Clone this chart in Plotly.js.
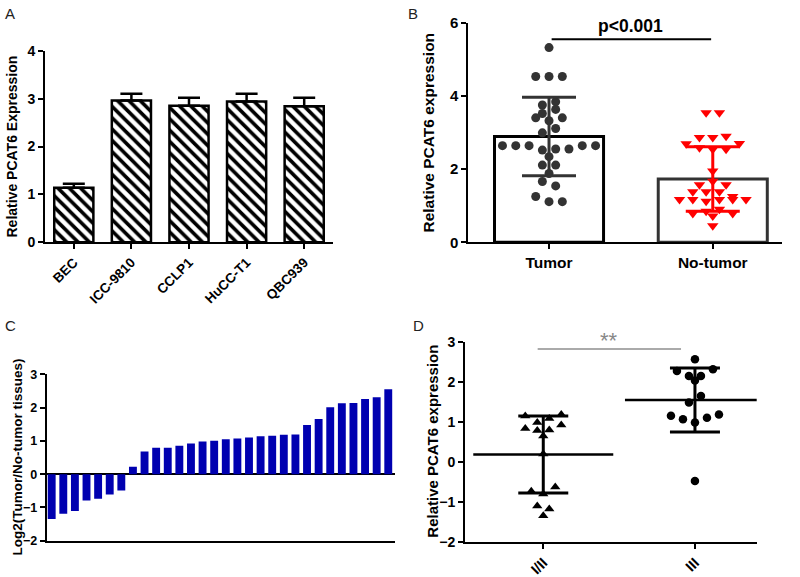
<!DOCTYPE html>
<html><head><meta charset="utf-8">
<script src="https://cdn.plot.ly/plotly-3.0.1.min.js"></script>
<style>body{margin:0;background:#fff}#chart{width:800px;height:577px}</style>
</head><body><div id="chart"></div>
<script>
// ---------- Panel A: cell lines ----------
const cellLines = ['BEC', 'ICC-9810', 'CCLP1', 'HuCC-T1', 'QBC939'];
const cellMeans = [1.14, 2.96, 2.85, 2.94, 2.84];
const cellErr   = [0.08, 0.14, 0.17, 0.16, 0.18];

// ---------- Panel B: tumor vs no-tumor ----------
const groupsB = ['Tumor', 'No-tumor'];
const tumorVals = [5.32, 4.53, 4.53, 4.53, 3.75, 3.84, 3.52, 3.63, 3.40, 3.32, 3.40,
  2.99, 3.11, 2.64, 2.64, 2.64, 2.52, 2.55, 2.55, 2.64, 2.64, 2.34, 2.11, 2.11, 1.88,
  1.66, 1.54, 1.25, 1.11, 1.11];
const noTumorVals = [3.54, 3.54, 2.86, 2.86, 2.90, 2.69, 2.58, 2.54, 2.54, 2.70, 1.95,
  1.57, 1.67, 1.57, 1.38, 1.38, 1.38, 1.17, 1.17, 1.25, 1.12, 1.17, 1.17, 1.17,
  0.79, 0.85, 0.72, 0.90, 0.79, 0.45];
const groupMeansB = [2.89, 1.73];
const groupSDB = [1.07, 0.88];
const pLabelB = 'p<0.001';

// ---------- Panel C: log2 ratios ----------
const log2Ratios = [-1.35, -1.19, -1.11, -0.79, -0.74, -0.61, -0.49, 0.22, 0.68, 0.79,
  0.79, 0.85, 0.92, 0.98, 1.00, 1.05, 1.07, 1.10, 1.14, 1.15, 1.18, 1.19, 1.48, 1.66,
  2.01, 2.13, 2.14, 2.26, 2.31, 2.55];

// ---------- Panel D: stage ----------
const stagesD = ['I/II', 'III'];
const stageEarlyVals = [1.14, 0.98, 1.08, 1.18, 0.83, 0.78, 0.79, 0.92, 0.64, 0.19,
  -0.74, -0.81, -0.63, -1.11, -1.18, -1.35];
const stageLateVals = [2.56, 2.27, 2.14, 2.14, 2.31, 2.03, 1.48, 1.64, 1.15, 1.06, 0.98,
  1.10, 1.18, -0.48];
const stageMeansD = [0.18, 1.54];
const stageSDD = [0.96, 0.80];
const sigLabelD = '**';

// ---------- layout geometry ----------
const W = 800, H = 577;
const FONT = 'Arial, "Liberation Sans", sans-serif';
const xd = (a, b) => [a / W, b / W];
const yd = (top, bottom) => [1 - bottom / H, 1 - top / H];

const geo = {
  A: {x: [45, 333], y: [50.7, 242.3], xr: [-0.5, 4.5], yr: [0, 4]},
  B: {x: [468.3, 781.7], y: [22.7, 242.3], xr: [-0.493, 1.421], yr: [0, 6]},
  C: {x: [46.7, 395], y: [374.3, 540.7], xr: [-0.43, 29.58], yr: [-2, 3]},
  D: {x: [465, 756.7], y: [341.7, 541.7], xr: [-0.516, 1.407], yr: [-2, 3]}
};
const pxPerX = g => (g.x[1] - g.x[0]) / (g.xr[1] - g.xr[0]);

// row-based beeswarm (GraphPad-like): values close in y share a row, spread symmetrically
function swarm(values, thresh, spacingPx, ppx) {
  const idx = values.map((v, i) => i).sort((a, b) => values[b] - values[a] || a - b);
  const rows = [];
  let cur = null, start = null;
  idx.forEach(i => {
    if (cur === null || start - values[i] > thresh) { cur = []; rows.push(cur); start = values[i]; }
    cur.push(i);
  });
  const off = new Array(values.length).fill(0);
  rows.forEach(r => {
    r.sort((a, b) => a - b);
    const n = r.length;
    r.forEach((i, k) => { off[i] = (k - (n - 1) / 2) * spacingPx / ppx; });
  });
  return off;
}

const tf = (s) => ({family: FONT, size: s, color: '#000', weight: 'bold'});
function axisBase(extra) {
  return Object.assign({
    showline: true, linecolor: '#000', linewidth: 2, ticks: 'outside', tickcolor: '#000',
    tickwidth: 2, ticklen: 5, showgrid: false, zeroline: false, fixedrange: true
  }, extra);
}

const traces = [];

// A
traces.push({
  type: 'bar', x: cellLines.map((c, i) => i), y: cellMeans, xaxis: 'x', yaxis: 'y', width: 0.68,
  marker: {color: '#fff', line: {color: '#000', width: 2.5},
    pattern: {shape: '\\', fgcolor: '#000', bgcolor: '#fff', size: 8, solidity: 0.45, fillmode: 'replace'}},
  error_y: {type: 'data', symmetric: false, array: cellErr, arrayminus: cellErr.map(() => 0),
    color: '#000', thickness: 2.5, width: 11},
  hoverinfo: 'none'
});

// B
const ppxB = pxPerX(geo.B);
traces.push({
  type: 'bar', x: [0, 1], y: groupMeansB, xaxis: 'x2', yaxis: 'y2', width: 0.666,
  marker: {color: 'rgba(255,255,255,0)', line: {color: ['#000', '#333'], width: 3}}, hoverinfo: 'none'
});
const offT = swarm(tumorVals, 0.18, 13.3, ppxB);
traces.push({
  type: 'scatter', mode: 'markers', xaxis: 'x2', yaxis: 'y2',
  x: tumorVals.map((v, i) => 0 + offT[i]), y: tumorVals,
  marker: {symbol: 'circle', size: 9, color: '#333'}, hoverinfo: 'none'
});
const offN = swarm(noTumorVals, 0.18, 13.3, ppxB);
traces.push({
  type: 'scatter', mode: 'markers', xaxis: 'x2', yaxis: 'y2',
  x: noTumorVals.map((v, i) => 1 + offN[i]), y: noTumorVals,
  marker: {symbol: 'triangle-down', size: 10, color: '#ff0000'}, hoverinfo: 'none'
});
['#333', '#ff0000'].forEach((c, i) => {
  traces.push({
    type: 'scatter', mode: 'markers', xaxis: 'x2', yaxis: 'y2', x: [i], y: [groupMeansB[i]],
    marker: {size: 1, opacity: 0}, hoverinfo: 'none',
    error_y: {type: 'data', array: [groupSDB[i]], color: c, thickness: 3, width: 27}
  });
});

// C
traces.push({
  type: 'bar', x: log2Ratios.map((v, i) => i), y: log2Ratios, xaxis: 'x3', yaxis: 'y3', width: 0.68,
  marker: {color: '#0000b0'}, hoverinfo: 'none'
});

// D
const ppxD = pxPerX(geo.D);
const offE = swarm(stageEarlyVals, 0.22, 12, ppxD);
const offL = swarm(stageLateVals, 0.22, 12, ppxD);
traces.push({
  type: 'scatter', mode: 'markers', xaxis: 'x4', yaxis: 'y4',
  x: stageEarlyVals.map((v, i) => 0 + offE[i]), y: stageEarlyVals,
  marker: {symbol: 'triangle-up', size: 9, color: '#000'}, hoverinfo: 'none'
});
traces.push({
  type: 'scatter', mode: 'markers', xaxis: 'x4', yaxis: 'y4',
  x: stageLateVals.map((v, i) => 1 + offL[i]), y: stageLateVals,
  marker: {symbol: 'circle', size: 8.5, color: '#000'}, hoverinfo: 'none'
});
traces.push({
  type: 'scatter', mode: 'markers', xaxis: 'x4', yaxis: 'y4', x: [0, 1], y: stageMeansD,
  marker: {symbol: 'line-ew', size: 100, color: '#000', line: {color: '#000', width: 2.5}},
  error_y: {type: 'data', array: stageSDD, color: '#000', thickness: 3, width: 25},
  hoverinfo: 'none'
});

const pa = (text, x, y, font, extra) => Object.assign({text, xref: 'paper', yref: 'paper', x: x / W, y: 1 - y / H,
  xanchor: 'center', yanchor: 'middle', showarrow: false, font}, extra || {});
const letterFont = {family: FONT, size: 15, color: '#222'};

const layout = {
  width: W, height: H, margin: {l: 0, r: 0, t: 0, b: 0}, showlegend: false,
  paper_bgcolor: '#fff', plot_bgcolor: 'rgba(0,0,0,0)', font: {family: FONT, color: '#000'},
  xaxis: axisBase({domain: xd(...geo.A.x), anchor: 'y', range: geo.A.xr, tickvals: cellLines.map((c, i) => i),
    ticktext: cellLines, tickangle: -45, tickfont: tf(13.5)}),
  yaxis: axisBase({domain: yd(...geo.A.y), anchor: 'x', range: geo.A.yr, dtick: 1, tickfont: tf(14)}),
  xaxis2: axisBase({domain: xd(...geo.B.x), anchor: 'y2', range: geo.B.xr, tickvals: [0, 1],
    ticktext: groupsB, tickfont: tf(15.5)}),
  yaxis2: axisBase({domain: yd(...geo.B.y), anchor: 'x2', range: geo.B.yr, dtick: 2, tickfont: tf(15)}),
  xaxis3: axisBase({domain: xd(...geo.C.x), anchor: 'y3', range: geo.C.xr, ticks: '', showticklabels: false}),
  yaxis3: axisBase({domain: yd(...geo.C.y), anchor: 'x3', range: geo.C.yr, dtick: 1, tickfont: tf(12.5),
    zeroline: true, zerolinecolor: '#000', zerolinewidth: 2}),
  xaxis4: axisBase({domain: xd(...geo.D.x), anchor: 'y4', range: geo.D.xr, tickvals: [0, 1],
    ticktext: stagesD, tickangle: -45, tickfont: tf(14.5)}),
  yaxis4: axisBase({domain: yd(...geo.D.y), anchor: 'x4', range: geo.D.yr, dtick: 1, tickfont: tf(14)}),
  shapes: [
    {type: 'line', xref: 'x2', yref: 'y2', x0: 0.016, x1: 0.99, y0: 5.55, y1: 5.55, line: {color: '#000', width: 2}},
    {type: 'line', xref: 'x4', yref: 'y4', x0: -0.037, x1: 0.908, y0: 2.82, y1: 2.82, line: {color: '#aaa', width: 2}}
  ],
  annotations: [
    pa('A', 10, 13, letterFont),
    pa('B', 412.7, 13.3, letterFont),
    pa('C', 10, 325, letterFont),
    pa('D', 418.3, 325, letterFont),
    pa('Relative PCAT6 Expression', 11, 146.5, tf(14), {textangle: -90}),
    pa('Relative PCAT6 expression', 428, 132.5, tf(15.5), {textangle: -90}),
    pa('Log2(Tumor/No-tumor tissues)', 17, 457.5, tf(13.5), {textangle: -90}),
    pa('Relative PCAT6 expression', 433, 441.7, tf(15), {textangle: -90}),
    {text: pLabelB, xref: 'x2', yref: 'y2', x: 0.5, y: 5.55, yanchor: 'bottom', yshift: 1, showarrow: false, font: tf(17.5)},
    {text: sigLabelD, xref: 'x4', yref: 'paper', x: 0.43, y: 1 - 340 / H, yanchor: 'middle', showarrow: false,
      font: {family: FONT, size: 22, color: '#888'}}
  ]
};

Plotly.newPlot('chart', traces, layout, {staticPlot: true, displayModeBar: false});
</script>
</body></html>
